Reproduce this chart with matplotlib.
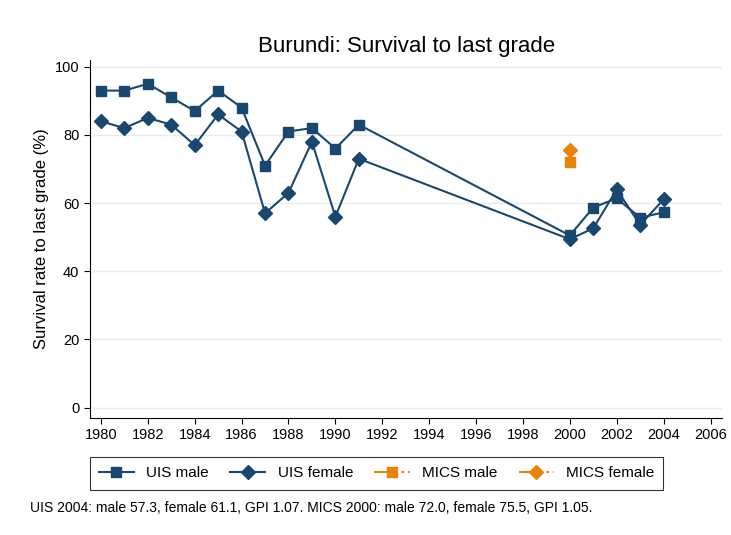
import numpy as np
import matplotlib.pyplot as plt
from matplotlib.lines import Line2D

plt.rcParams['font.family'] = ['Liberation Sans', 'DejaVu Sans']

years = [1980, 1981, 1982, 1983, 1984, 1985, 1986, 1987, 1988, 1989, 1990, 1991,
         2000, 2001, 2002, 2003, 2004]
uis_male = [93, 93, 95, 91, 87, 93, 88, 71, 81, 82, 76, 83,
            50.5, 58.7, 61.4, 55.7, 57.3]
uis_female = [84, 82, 85, 83, 77, 86, 81, 57, 63, 78, 56, 73,
              49.4, 52.6, 64.0, 53.6, 61.1]
mics_years = [2000]
mics_male = [72.0]
mics_female = [75.5]

navy = '#1a476f'
orange = '#e8830a'

fig = plt.figure(figsize=(7.31, 5.35), dpi=100)
ax = fig.add_axes([0.123, 0.219, 0.865, 0.669])

ax.plot(years, uis_male, color=navy, lw=1.5, marker='s', ms=7, label='UIS male')
ax.plot(years, uis_female, color=navy, lw=1.5, marker='D', ms=7, label='UIS female')
ax.plot(mics_years, mics_male, color=orange, ls='none', marker='s', ms=7)
ax.plot(mics_years, mics_female, color=orange, ls='none', marker='D', ms=7)

ax.set_xlim(1979.53, 2006.5)
ax.set_ylim(-3, 102)
ax.set_xticks(np.arange(1980, 2007, 2))
ax.set_yticks(np.arange(0, 101, 20))
ax.tick_params(labelsize=10.5, length=4)
ax.grid(axis='y', color='#e4eced', lw=1)
ax.set_axisbelow(True)
for s in ['top', 'right']:
    ax.spines[s].set_visible(False)
ax.set_ylabel('Survival rate to last grade (%)', fontsize=12)
ax.set_title('Burundi: Survival to last grade', fontsize=16, pad=6)

mics_ls = (0, (8, 2, 1.2, 2, 1.2, 2))
handles = [
    Line2D([], [], color=navy, lw=1.5, marker='s', ms=7),
    Line2D([], [], color=navy, lw=1.5, marker='D', ms=7),
    Line2D([], [], color=orange, lw=1.5, ls=mics_ls, marker='s', ms=7),
    Line2D([], [], color=orange, lw=1.5, ls=mics_ls, marker='D', ms=7),
]
labels = ['UIS male', 'UIS female', 'MICS male', 'MICS female']
leg = fig.legend(handles, labels, loc='center', bbox_to_anchor=(0.515, 0.115),
                 ncol=4, fontsize=11, frameon=True, fancybox=False,
                 edgecolor='black', handlelength=2.3, columnspacing=1.4,
                 handletextpad=0.8, borderpad=0.6)
leg.get_frame().set_linewidth(0.8)

fig.text(0.041, 0.05, 'UIS 2004: male 57.3, female 61.1, GPI 1.07. MICS 2000: male 72.0, female 75.5, GPI 1.05.',
         fontsize=10, va='center')

fig.savefig('out.png', dpi=100)
